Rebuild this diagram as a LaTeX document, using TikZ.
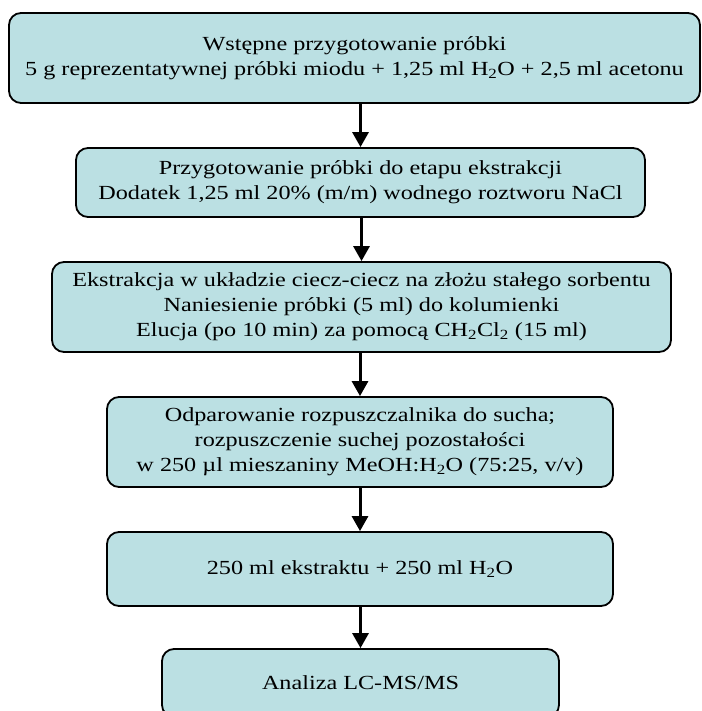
\documentclass[tikz,border=0pt]{standalone}
\usepackage{fontspec}
\setmainfont{Liberation Serif}[FakeStretch=1.21]
\usetikzlibrary{arrows.meta,calc}
\definecolor{boxfill}{RGB}{187,224,227}
\begin{document}
\begin{tikzpicture}[x=1pt,y=-1pt,
  stepbox/.style={draw=black, line width=1.8pt, fill=boxfill, rounded corners=12pt,
    inner sep=0pt, align=center, font=\fontsize{20}{25}\selectfont},
  flow/.style={line width=3pt, -{Triangle[width=16pt,length=15pt]}}]
  \clip (0,0) rectangle (701,711);
  \useasboundingbox (0,0) rectangle (701,711);

  \node[stepbox, minimum width=691pt, minimum height=90pt] (b1) at (354.5,58)
    {Wstępne przygotowanie próbki\\
     5 g reprezentatywnej próbki miodu + 1,25 ml H\textsubscript{2}O + 2,5 ml acetonu};
  \node[stepbox, minimum width=569pt, minimum height=69pt] (b2) at (360.5,182.5)
    {Przygotowanie próbki do etapu ekstrakcji\\
     Dodatek 1,25 ml 20\% (m/m) wodnego roztworu NaCl};
  \node[stepbox, minimum width=619pt, minimum height=90pt] (b3) at (361.5,307)
    {Ekstrakcja w układzie ciecz-ciecz na złożu stałego sorbentu\\
     Naniesienie próbki (5 ml) do kolumienki\\
     Elucja (po 10 min) za pomocą CH\textsubscript{2}Cl\textsubscript{2} (15 ml)};
  \node[stepbox, minimum width=506pt, minimum height=90pt] (b4) at (360,442)
    {Odparowanie rozpuszczalnika do sucha;\\
     rozpuszczenie suchej pozostałości\\
     w 250 µl mieszaniny MeOH:H\textsubscript{2}O (75:25, v/v)};
  \node[stepbox, minimum width=506pt, minimum height=74pt] (b5) at (360,569)
    {250 ml ekstraktu + 250 ml H\textsubscript{2}O};
  \node[stepbox, minimum width=397pt, minimum height=68pt] (b6) at (360.5,683)
    {Analiza LC-MS/MS};

  \foreach \a/\b in {b1/b2, b2/b3, b3/b4, b4/b5, b5/b6}
    \draw[flow] (\a.south -| \b.north) -- (\b.north);
\end{tikzpicture}
\end{document}
